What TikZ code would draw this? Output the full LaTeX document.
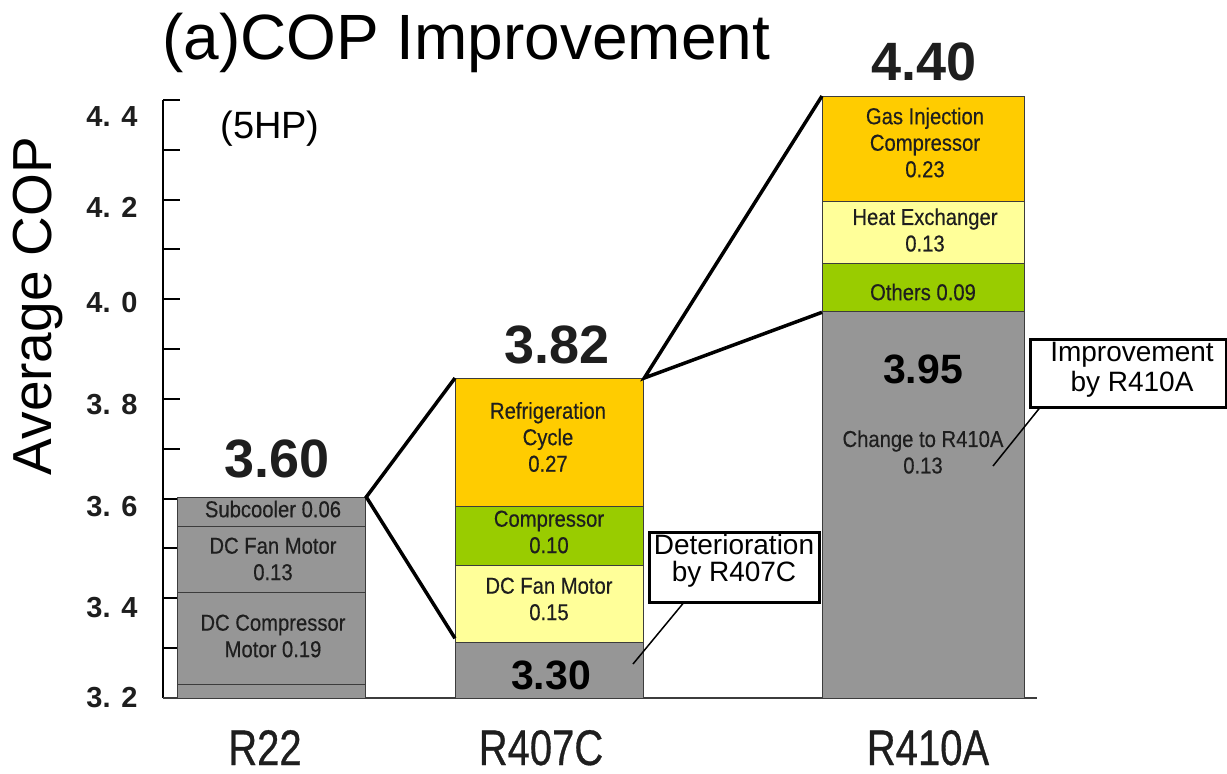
\documentclass[tikz,border=0pt]{standalone}
\usepackage{fontspec}
\setmainfont{Liberation Sans}
\newfontfamily\narrowfont[FakeStretch=0.88, FakeBold=0.4]{Liberation Sans}
\newfontfamily\catfont[FakeStretch=0.8, FakeBold=0.6]{Liberation Sans}
\usetikzlibrary{calc}

\definecolor{bargray}{RGB}{150,150,150}
\definecolor{segline}{RGB}{60,60,60}
\definecolor{cycleorange}{RGB}{255,204,0}
\definecolor{compgreen}{RGB}{153,204,0}
\definecolor{fanyellow}{RGB}{255,255,153}
\definecolor{inktext}{RGB}{30,30,30}

\newcommand\fsz[2]{\fontsize{#1}{#2}\selectfont}

\tikzset{
  seg/.style={draw=segline, line width=1.3pt, anchor=north west, inner sep=0pt},
  segtext/.style={inner sep=0pt, align=center, text=inktext, font=\narrowfont\fsz{23}{26.5}},
  r22seg/.style={seg, fill=bargray, minimum width=188},
  r407seg/.style={seg, minimum width=188},
  r410seg/.style={seg, minimum width=202},
  bigval/.style={inner sep=0pt, text=inktext, font=\bfseries\fsz{54}{60}},
  midval/.style={inner sep=0pt, text=black, font=\bfseries\fsz{41}{46}},
  ticklab/.style={inner sep=0pt, text=inktext, font=\bfseries\fsz{29}{32}},
  catlab/.style={inner sep=0pt, anchor=base, text=inktext, font=\catfont\fsz{50}{56}},
  calloutbox/.style={draw=black, fill=white, line width=3pt, inner sep=0pt},
  callouttext/.style={inner sep=0pt, align=center, text=black, font=\fsz{28}{27}},
  leader/.style={draw=black, line width=1.5pt},
  zoomline/.style={draw=black, line width=3.5pt, line join=miter},
  axisline/.style={draw=black, line width=2pt},
}

\begin{document}
\begin{tikzpicture}[x=1pt, y=-1pt]
\useasboundingbox (0,0) rectangle (1227,774);

% title and axis label
\node[anchor=base west, inner sep=0pt, font=\fsz{64}{70}] (title) at (162,59) {(a)COP Improvement};
\node[rotate=90, anchor=base, inner sep=0pt, font=\fsz{55}{60}] (ylab) at (51,306) {Average COP};
\node[inner sep=0pt, font=\fsz{38}{42}] (hp) at (270,129) {(5HP)};

% axes
\coordinate (axtop) at (163,100);
\coordinate (axbot) at (163,698);
\coordinate (axend) at (1037,698);
\draw[axisline] (axtop) -- (axbot);
\draw[draw=segline, line width=2pt] (axbot) -- (axend);
\foreach \k in {0,...,11}
  \draw[axisline] (163,{100+\k*49.83}) -- (180,{100+\k*49.83});

% tick labels
\node[ticklab] (t44) at (112,117) {4. 4};
\node[ticklab] (t42) at (112,207) {4. 2};
\node[ticklab] (t40) at (112,303) {4. 0};
\node[ticklab] (t38) at (112,405) {3. 8};
\node[ticklab] (t36) at (112,507) {3. 6};
\node[ticklab] (t34) at (112,608) {3. 4};
\node[ticklab] (t32) at (112,698) {3. 2};

% R22 bar
\node[r22seg, minimum height=29] (r22sub) at (177,497) {};
\node[r22seg, minimum height=66] (r22fan) at (177,526) {};
\node[r22seg, minimum height=92] (r22comp) at (177,592) {};
\node[r22seg, minimum height=14] (r22base) at (177,684) {};
\node[segtext] (r22subt) at (273,509) {Subcooler 0.06};
\node[segtext] (r22fant) at (273,559) {DC Fan Motor\\0.13};
\node[segtext] (r22compt) at (273,636) {DC Compressor\\Motor 0.19};

% R407C bar
\node[r407seg, fill=cycleorange, minimum height=128] (r407ref) at (455,378) {};
\node[r407seg, fill=compgreen, minimum height=59] (r407comp) at (455,506) {};
\node[r407seg, fill=fanyellow, minimum height=77] (r407fan) at (455,565) {};
\node[r407seg, fill=bargray, minimum height=56] (r407base) at (455,642) {};
\node[segtext] (r407reft) at (548,437) {Refrigeration\\Cycle\\0.27};
\node[segtext] (r407compt) at (549,532) {Compressor\\0.10};
\node[segtext] (r407fant) at (549,599) {DC Fan Motor\\0.15};

% R410A bar
\node[r410seg, fill=cycleorange, minimum height=105] (r410gas) at (822,96) {};
\node[r410seg, fill=fanyellow, minimum height=62] (r410hex) at (822,201) {};
\node[r410seg, fill=compgreen, minimum height=48] (r410oth) at (822,263) {};
\node[r410seg, fill=bargray, minimum height=387] (r410base) at (822,311) {};
\node[segtext] (r410gast) at (925,142.5) {Gas Injection\\Compressor\\0.23};
\node[segtext] (r410hext) at (925,230) {Heat Exchanger\\0.13};
\node[segtext] (r410otht) at (923,292) {Others 0.09};
\node[segtext] (chg) at (923,452) {Change to R410A\\0.13};

% totals
\node[bigval] (v360) at (277,459) {3.60};
\node[bigval] (v382) at (557,345) {3.82};
\node[bigval] (v440) at (924,62) {4.40};
\node[midval] (v395) at (923,369) {3.95};
\node[midval] (v330) at (551,675) {3.30};

% zoom-out lines between bars
\draw[zoomline] (r407ref.north west) -- (r22sub.north east) -- ([yshift=5pt]r407fan.south west);
\draw[zoomline] (r410gas.north west) -- (r407ref.north east) -- (r410oth.south west);

% callouts
\node[calloutbox, minimum width=170, minimum height=70] (detbox) at (734,567) {};
\node[callouttext] (dettext) at (734,561) {Deterioration\\by R407C};
\coordinate (detpt) at (633,664);
\draw[leader] ([xshift=-51pt]detbox.south) -- (detpt);

\node[calloutbox, minimum width=196, minimum height=68] (impbox) at (1128,373) {};
\node[callouttext, font=\fsz{28}{30}] (imptext) at (1132,369.5) {Improvement\\by R410A};
\coordinate (imppt) at (993,466);
\draw[leader] ([xshift=10.7pt]impbox.south west) -- (imppt);

% category labels
\node[catlab] (c22) at (265,765) {R22};
\node[catlab] (c407) at (541,765) {R407C};
\node[catlab] (c410) at (928,765) {R410A};
\end{tikzpicture}
\end{document}
